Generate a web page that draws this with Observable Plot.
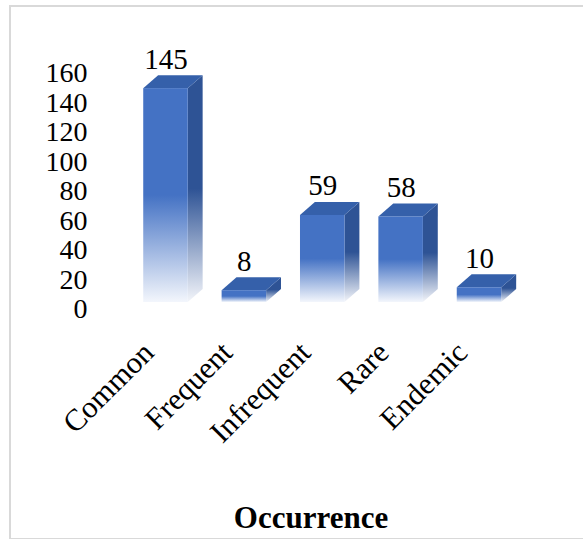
<!DOCTYPE html>
<html>
<head>
<meta charset="utf-8">
<script src="https://cdn.jsdelivr.net/npm/d3@7"></script>
<script src="https://cdn.jsdelivr.net/npm/@observablehq/plot@0.6"></script>
<style>
  html, body { margin: 0; padding: 0; background: #fff; }
  #wrap { position: relative; width: 583px; height: 539px; overflow: hidden; }
  #border { position: absolute; left: 9px; top: 5px; width: 600px; height: 531px; border: 2px solid #d9d9d9; box-sizing: content-box; }
  #chart { position: absolute; left: 0; top: 0; }
  #chart svg text { font-family: "Liberation Serif", "Times New Roman", serif !important; }
</style>
</head>
<body>
<div id="wrap"><div id="border"></div><div id="chart"></div></div>
<script>
// Occurrence classes and number of species in each
const categories = ["Common", "Frequent", "Infrequent", "Rare", "Endemic"];
const counts = [145, 8, 59, 58, 10];
const yTicks = [0, 20, 40, 60, 80, 100, 120, 140, 160];
const axisTitle = "Occurrence";

const rows = categories.map((category, i) => ({category, i, count: counts[i]}));

// 3D box geometry in data units: half bar width, depth offsets
const hw = 0.284;
const ddx = 0.19;
const ddy = 8.8;

// side face: right edge of the front face to the back plane
const sidePts = rows.flatMap(d => [
  {category: d.category, x: d.i + hw, y1: 0, y2: d.count},
  {category: d.category, x: d.i + hw + ddx, y1: ddy, y2: d.count + ddy}
]);
// top face: front top edge to back top edge
const topPts = rows.flatMap(d => [
  {category: d.category, y: d.count, xa: d.i - hw, xb: d.i + hw},
  {category: d.category, y: d.count + ddy, xa: d.i - hw + ddx, xb: d.i + hw + ddx}
]);

const font = "Liberation Serif";

const plot = Plot.plot({
  width: 583,
  height: 539,
  marginLeft: 87,
  marginRight: 49,
  marginTop: 0,
  marginBottom: 12,
  style: {background: "transparent", fontFamily: font, color: "#000", overflow: "visible"},
  x: {type: "linear", domain: [-0.5, 4.5], range: [126.3, 518.2], axis: null},
  y: {type: "linear", domain: [0, 160], range: [302, 66], axis: null},
  marks: [
    Plot.area(sidePts, {x1: "x", y1: "y1", y2: "y2", z: "category", fill: "url(#sideGrad)", curve: "linear"}),
    Plot.area(topPts, {x1: "xa", x2: "xb", y1: "y", z: "category", fill: "#3560aa", curve: "linear"}),
    Plot.rect(rows, {x1: d => d.i - hw, x2: d => d.i + hw, y1: 0, y2: "count", fill: "url(#frontGrad)"}),
    // value labels above each bar
    Plot.text(rows, {x: "i", y: "count", text: d => String(d.count), lineAnchor: "bottom", dy: -20, fontSize: 29, fontFamily: font, fill: "#000"}),
    // y tick labels
    Plot.text(yTicks, {y: d => d, text: d => String(d), frameAnchor: "left", textAnchor: "end", dy: 7, fontSize: 28, fontFamily: font, fill: "#000"}),
    // category labels, rotated
    Plot.text(rows, {x: "i", y: () => 0, text: "category", rotate: -45, textAnchor: "end", lineAnchor: "bottom", dx: -10.5, dy: 52, fontSize: 30.5, fontFamily: font, fill: "#000"}),
    // axis title
    Plot.text([axisTitle], {text: d => d, frameAnchor: "bottom", fontSize: 31, fontWeight: "bold", fontFamily: font, fill: "#000"})
  ]
});

// gradients used by the bar faces
const defs = d3.select(plot).insert("defs", ":first-child");
const front = defs.append("linearGradient").attr("id", "frontGrad").attr("x1", 0).attr("y1", 0).attr("x2", 0).attr("y2", 1);
front.append("stop").attr("offset", "0").attr("stop-color", "#4472c4");
front.append("stop").attr("offset", "0.5").attr("stop-color", "#4472c4");
front.append("stop").attr("offset", "1").attr("stop-color", "#f3f6fc");
const side = defs.append("linearGradient").attr("id", "sideGrad").attr("x1", 0).attr("y1", 0).attr("x2", 0).attr("y2", 1);
side.append("stop").attr("offset", "0").attr("stop-color", "#2e5395");
side.append("stop").attr("offset", "0.5").attr("stop-color", "#2e5395");
side.append("stop").attr("offset", "1").attr("stop-color", "#f3f5fa");

document.getElementById("chart").appendChild(plot);
</script>
</body>
</html>
